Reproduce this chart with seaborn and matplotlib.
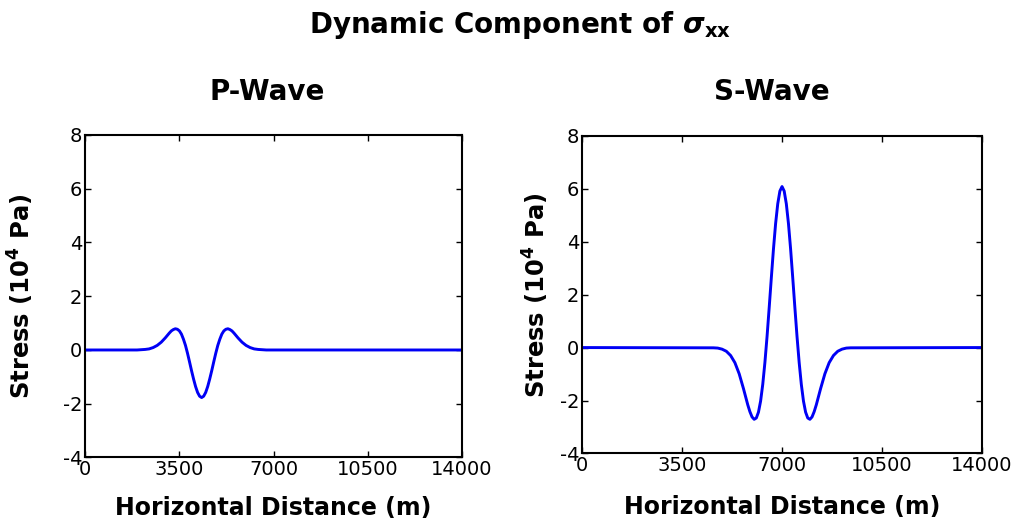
import matplotlib
matplotlib.use("Agg")
import matplotlib.pyplot as plt
import seaborn as sns
import pandas as pd

# Horizontal distance (m) and dynamic sigma_xx stress (1e4 Pa) for each wave
p_distance = [0, 1930, 2080, 2230, 2380, 2530, 2680, 2830, 2980, 3130, 3205,
              3280, 3355, 3430, 3505, 3580, 3655, 3730, 3805, 3880, 3955,
              4030, 4105, 4180, 4255, 4330, 4405, 4480, 4555, 4630, 4705,
              4780, 4855, 4930, 5005, 5080, 5155, 5230, 5305, 5380, 5455,
              5530, 5680, 5830, 5980, 6130, 6280, 6430, 6580, 6730, 14000]
p_stress = [0.00, 0.00, 0.01, 0.02, 0.04, 0.09, 0.17, 0.29, 0.45, 0.63, 0.71,
            0.76, 0.79, 0.77, 0.71, 0.59, 0.40, 0.17, -0.12, -0.44, -0.77,
            -1.08, -1.36, -1.58, -1.72, -1.77, -1.72, -1.58, -1.36, -1.08, -0.77,
            -0.44, -0.12, 0.17, 0.40, 0.59, 0.71, 0.77, 0.79, 0.76, 0.71,
            0.63, 0.45, 0.29, 0.17, 0.09, 0.04, 0.02, 0.01, 0.00, 0.00]

s_distance = [0, 4600, 4750, 4900, 5050, 5200, 5350, 5500, 5650, 5800, 5875,
              5950, 6025, 6100, 6175, 6250, 6325, 6400, 6475, 6550, 6625,
              6700, 6775, 6850, 6925, 7000, 7075, 7150, 7225, 7300, 7375,
              7450, 7525, 7600, 7675, 7750, 7825, 7900, 7975, 8050, 8125,
              8200, 8350, 8500, 8650, 8800, 8950, 9100, 9250, 9400, 14000]
s_stress = [0.00, -0.01, -0.02, -0.06, -0.14, -0.30, -0.57, -0.99, -1.55, -2.16, -2.42,
            -2.62, -2.71, -2.66, -2.44, -2.02, -1.39, -0.57, 0.41, 1.50, 2.63,
            3.72, 4.68, 5.43, 5.91, 6.08, 5.91, 5.43, 4.68, 3.72, 2.63,
            1.50, 0.41, -0.57, -1.39, -2.02, -2.44, -2.66, -2.71, -2.62, -2.42,
            -2.16, -1.55, -0.99, -0.57, -0.30, -0.14, -0.06, -0.02, -0.01, 0.00]

panel_titles = ["P-Wave", "S-Wave"]
x_ticks = [0, 3500, 7000, 10500, 14000]
y_ticks = [-4, -2, 0, 2, 4, 6, 8]

sns.set_theme(style="ticks")
plt.rcParams["font.family"] = ["DejaVu Sans"]
plt.rcParams["mathtext.fontset"] = "custom"
plt.rcParams["mathtext.it"] = "DejaVu Sans:italic:bold"
plt.rcParams["mathtext.rm"] = "DejaVu Sans:bold"
plt.rcParams["mathtext.bf"] = "DejaVu Sans:bold"
plt.rcParams["axes.unicode_minus"] = False
for key in ["text.color", "axes.labelcolor", "xtick.color", "ytick.color",
            "axes.edgecolor"]:
    plt.rcParams[key] = "black"

fig = plt.figure(figsize=(10.22, 5.27), dpi=100)
fig.patch.set_facecolor("white")

ax_p = fig.add_axes([0.0832, 0.1319, 0.3689, 0.612])
ax_s = fig.add_axes([0.5695, 0.1395, 0.3914, 0.603])

frames = [
    pd.DataFrame({"distance": p_distance, "stress": p_stress}),
    pd.DataFrame({"distance": s_distance, "stress": s_stress}),
]

title_x = [0.261, 0.755]
ylabel_x = [-0.129, -0.077]
xlabel_pad = [12, 14.5]

for ax, df, name, tx, yx, xpad in zip([ax_p, ax_s], frames, panel_titles,
                                      title_x, ylabel_x, xlabel_pad):
    sns.lineplot(data=df, x="distance", y="stress", ax=ax, color="#0000f5",
                 linewidth=2.1, estimator=None, sort=False)
    ax.set_xlim(0, 14000)
    ax.set_ylim(-4, 8)
    ax.set_xticks(x_ticks)
    ax.set_yticks(y_ticks)
    ax.tick_params(direction="in", length=4, width=1.0, top=True, right=True,
                   labelsize=14, pad=2, colors="black")
    for sp in ax.spines.values():
        sp.set_visible(True)
        sp.set_linewidth(1.5)
        sp.set_color("black")
    ax.set_facecolor("white")
    ax.grid(False)
    ax.set_xlabel("Horizontal Distance (m)", fontsize=17, fontweight="bold",
                  labelpad=xpad)
    ax.set_ylabel(r"Stress (10$^{\mathbf{4}}$ Pa)", fontsize=17.5,
                  fontweight="bold")
    ax.yaxis.set_label_coords(yx, 0.5)
    fig.text(tx, 1 - 100 / 527, name, ha="center", va="baseline",
             fontsize=20, fontweight="bold")

fig.text(0.509, 1 - 33 / 527, r"Dynamic Component of $\sigma_{\mathbf{xx}}$",
         ha="center", va="baseline", fontsize=20, fontweight="bold")

fig.savefig("out.png", dpi=100, facecolor="white")
